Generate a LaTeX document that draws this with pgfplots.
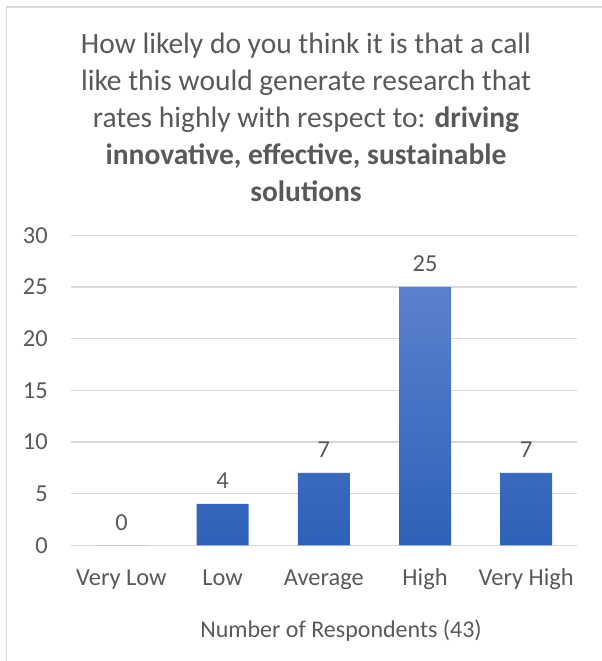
\documentclass[border=0pt]{standalone}
\usepackage{fontspec}
\setmainfont{Carlito}
\usepackage{pgfplots}
\pgfplotsset{compat=1.18}
\definecolor{txt}{HTML}{595959}
\definecolor{gridc}{HTML}{D9D9D9}
\definecolor{bartop}{HTML}{5B81CC}
\definecolor{barbot}{HTML}{2E61B9}
\begin{document}
\begin{tikzpicture}[x=1pt,y=1pt]
\useasboundingbox (0,0) rectangle (602,661);
\draw[gridc, line width=1.5pt] (6.5,0) -- (6.5,654) -- (602,654);
\begin{scope}[every node/.style={text=txt, inner sep=0pt, font=\fontsize{29.5}{36}\selectfont}]
\node[anchor=base] at (306,607) {How likely do you think it is that a call};
\node[anchor=base] at (306,570) {like this would generate research that};
\node[anchor=base] at (306,533) {rates highly with respect to: \textbf{driving}};
\node[anchor=base] at (306,496) {\textbf{innovative, effective, sustainable}};
\node[anchor=base] at (306,459) {\textbf{solutions}};
\end{scope}
\begin{axis}[
  at={(70,112)}, anchor=south west,
  scale only axis, width=506pt, height=310pt,
  ymin=0, ymax=30, ytick={0,5,...,30},
  xmin=-0.5, xmax=4.5,
  xtick={0,1,2,3,4},
  xticklabels={Very Low,Low,Average,High,Very High},
  axis line style={draw=none},
  xmajorgrids=false, ymajorgrids=true,
  major grid style={draw=gridc, line width=1.5pt},
  major tick length=0pt,
  tick label style={text=txt, font=\fontsize{24.4}{29}\selectfont},
  /pgf/number format/assume math mode=true,
  yticklabel style={anchor=east, inner sep=0pt, xshift=-23pt},
  xticklabel style={anchor=base, inner sep=0pt, yshift=-40pt},
  xlabel={Number of Respondents (43)},
  xlabel style={at={(axis description cs:0.534,-0.297)}, anchor=base, inner sep=0pt, text=txt, font=\fontsize{24}{29}\selectfont},
  ybar, bar width=52pt,
  nodes near coords,
  nodes near coords style={anchor=base, yshift=15pt, inner sep=0pt, text=txt, font=\fontsize{24.4}{29}\selectfont},
]
\addplot[draw=none, top color=bartop, bottom color=barbot] coordinates {(0,0) (1,4) (2,7) (3,25) (4,7)};
\end{axis}
\end{tikzpicture}
\end{document}
